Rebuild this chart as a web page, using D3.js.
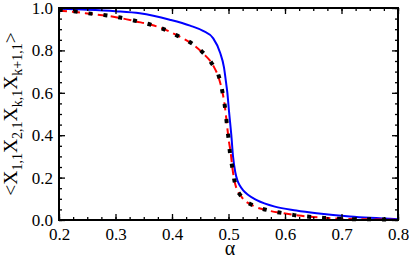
<!DOCTYPE html>
<html><head><meta charset="utf-8">
<script src="https://cdn.jsdelivr.net/npm/d3@7"></script>
<style>body{margin:0;background:#fff}svg{display:block}svg text{font-family:"Liberation Serif","Times New Roman",serif !important;fill:#000}</style>
</head><body>
<svg id="c" width="409" height="259" font-family="Liberation Serif"></svg>
<script>
const blueX = [0.2,0.25,0.3,0.343,0.396,0.432,0.455,0.473,0.485,0.492,0.4956,0.498,0.501,0.505,0.508,0.512,0.516,0.52,0.526,0.535,0.55,0.582,0.62,0.656,0.715,0.8];
const blueY = [0.996,0.992,0.985,0.975,0.945,0.917,0.892,0.857,0.79,0.72,0.65,0.6,0.51,0.4,0.3,0.225,0.185,0.163,0.14,0.118,0.094,0.063,0.045,0.032,0.016,0.004];
const redX = [0.2,0.23,0.257,0.283,0.31,0.336,0.363,0.388,0.412,0.435,0.455,0.473,0.483,0.49,0.494,0.497,0.5,0.504,0.507,0.5115,0.523,0.544,0.57,0.597,0.624,0.65,0.677,0.703,0.75,0.8];
const redY = [0.987,0.981,0.972,0.964,0.952,0.937,0.921,0.898,0.867,0.832,0.786,0.728,0.668,0.594,0.527,0.456,0.385,0.315,0.244,0.173,0.11,0.067,0.045,0.032,0.021,0.014,0.009,0.006,0.003,0.001];
const dotX = [0.203,0.23,0.257,0.283,0.31,0.336,0.363,0.388,0.412,0.435,0.456,0.473,0.484,0.49,0.494,0.497,0.5,0.5027,0.507,0.5115,0.523,0.544,0.57,0.597,0.624,0.65,0.677,0.703,0.75,0.8];
const dotY = [0.991,0.983,0.973,0.966,0.954,0.939,0.921,0.897,0.866,0.833,0.786,0.727,0.668,0.594,0.527,0.456,0.385,0.315,0.244,0.173,0.11,0.068,0.046,0.032,0.02,0.014,0.008,0.005,0.003,0.001];
const xTicks = [0.2,0.3,0.4,0.5,0.6,0.7,0.8];
const yTicks = [0.0,0.2,0.4,0.6,0.8,1.0];

const L=59,R=398,T=8,B=220;
const svg=d3.select("#c");
const x=d3.scaleLinear().domain([0.2,0.8]).range([L,R]);
const y=d3.scaleLinear().domain([0,1]).range([B,T]);
const line=d3.line().x(d=>x(d[0])).y(d=>y(d[1])).curve(d3.curveMonotoneX);
const g=svg.append("g");
g.append("path").datum(d3.zip(blueX,blueY)).attr("d",line).attr("fill","none").attr("stroke","#0000ff").attr("stroke-width",2);
g.append("path").datum(d3.zip(redX,redY)).attr("d",line).attr("fill","none").attr("stroke","#ff0000").attr("stroke-width",2).attr("stroke-dasharray","8,5");
g.append("path").datum(d3.zip(dotX,dotY)).attr("d",line).attr("fill","none").attr("stroke","#000").attr("stroke-width",4).attr("stroke-linecap","square").attr("stroke-dasharray","0.01,15");

const xMinor=d3.range(0.2,0.8001,0.025).map(v=>+v.toFixed(3));
const yMinor=d3.range(0,1.0001,0.05).map(v=>+v.toFixed(3));
const ax=(axis,tr)=>{const a=svg.append("g").attr("transform",tr).call(axis);a.attr("font-family",null);a.select(".domain").remove();a.selectAll("line").attr("stroke","#000").attr("stroke-width",1.3);return a;};
ax(d3.axisBottom(x).tickValues(xMinor).tickSize(-3).tickFormat(""),`translate(0,${B})`);
ax(d3.axisTop(x).tickValues(xMinor).tickSize(-3).tickFormat(""),`translate(0,${T})`);
ax(d3.axisLeft(y).tickValues(yMinor).tickSize(-3).tickFormat(""),`translate(${L},0)`);
ax(d3.axisRight(y).tickValues(yMinor).tickSize(-3).tickFormat(""),`translate(${R},0)`);
const xb=ax(d3.axisBottom(x).tickValues(xTicks).tickSize(-6).tickPadding(8).tickFormat(d3.format(".1f")),`translate(0,${B})`);
ax(d3.axisTop(x).tickValues(xTicks).tickSize(-6).tickFormat(""),`translate(0,${T})`);
const yl=ax(d3.axisLeft(y).tickValues(yTicks).tickSize(-6).tickPadding(6).tickFormat(d3.format(".1f")),`translate(${L},0)`);
ax(d3.axisRight(y).tickValues(yTicks).tickSize(-6).tickFormat(""),`translate(${R},0)`);
xb.selectAll("text").attr("font-size",17).attr("fill","#000");
yl.selectAll("text").attr("font-size",17).attr("fill","#000");

svg.append("rect").attr("x",L).attr("y",T).attr("width",R-L).attr("height",B-T).attr("fill","none").attr("stroke","#000").attr("stroke-width",2);

svg.append("text").attr("x",230).attr("y",255).attr("text-anchor","middle").attr("font-size",20).text("α");

const yt=svg.append("text").attr("transform","translate(17,114) rotate(-90)").attr("text-anchor","middle").attr("font-size",19.5);
const parts=[["<X",0],["1,1",1],["X",0],["2,1",1],["X",0],["k,1",1],["X",0],["k+1,1",1],[">",0]];
parts.forEach(([t,s],i)=>{
  const ts=yt.append("tspan").text(t);
  if(s){ts.attr("font-size",14).attr("dy",5);} else if(i>0){ts.attr("dy",-5);}
});
</script>
</body></html>
